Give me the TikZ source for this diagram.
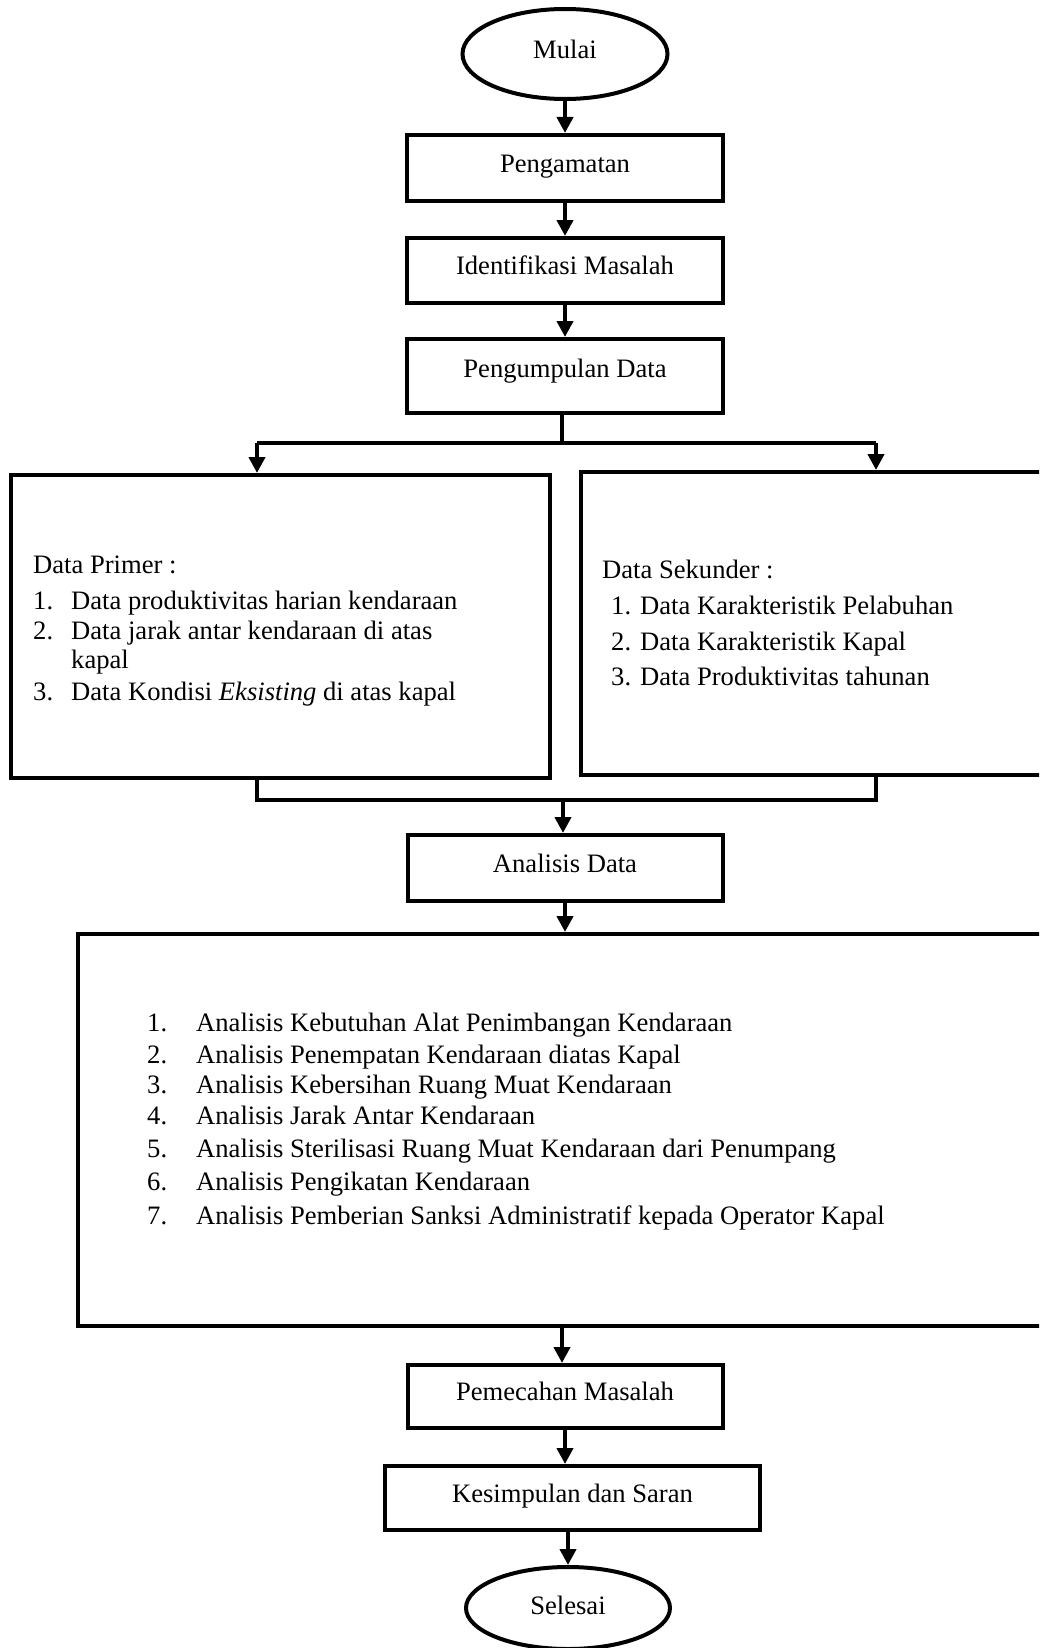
\documentclass[tikz,border=0pt]{standalone}
\usepackage{fontspec}
\setmainfont{Liberation Serif}
\usetikzlibrary{shapes.geometric,arrows.meta}
\begin{document}
\begin{tikzpicture}[x=1pt,y=-1pt,
  font=\fontsize{26.6}{32}\selectfont,
  box/.style={draw,line width=4pt,rectangle,inner sep=0pt,text height=0.83em,text depth=0em},
  oval/.style={draw,line width=4pt,ellipse,inner sep=0pt,text height=0.83em,text depth=0em},
  txt/.style={anchor=west,inner sep=0pt,text height=0.7em,text depth=0.25em,yshift=-7pt},
  conn/.style={line width=4pt},
  arr/.style={line width=4pt,-{Triangle[width=16pt,length=16pt]}}]
\useasboundingbox (0,0) rectangle (1039,1648);
\clip (0,0) rectangle (1039,1648);
% top chain
\node[oval,minimum width=205pt,minimum height=90pt] (mulai) at (565,54) {Mulai};
\node[box,minimum width=316pt,minimum height=66pt] (peng) at (565,168) {Pengamatan};
\node[box,minimum width=316pt,minimum height=65pt] (iden) at (565,270.5) {Identifikasi Masalah};
\node[box,minimum width=316pt,minimum height=74pt] (pengum) at (565,376) {};
\node[inner sep=0pt] (pengumt) at (565,371) {Pengumpulan Data};
\draw[arr] (mulai.south) -- (peng.north);
\draw[arr] (peng.south) -- (iden.north);
\draw[arr] (iden.south) -- (pengum.north);
% data boxes
\node[box,minimum width=539pt,minimum height=303pt] (primer) at (280.5,626.5) {};
\node[box,minimum width=519pt,minimum height=303pt] (sekunder) at (840.5,623.5) {};
\coordinate (split) at (562,443);
\coordinate (fl) at (257,443);
\coordinate (fr) at (876,443);
\draw[conn] (pengum.south -| split) -- (split);
\draw[conn] (fl) -- (fr);
\draw[arr] (fl) -- (fl |- primer.north);
\draw[arr] (fr) -- (fr |- sekunder.north);
% primer text
\node[txt] (p0) at (33,564) {Data Primer :};
\node[txt] (p1n) at (33,600) {1.};
\node[txt] (p1) at (71,600) {Data produktivitas harian kendaraan};
\node[txt] (p2n) at (33,630) {2.};
\node[txt] (p2) at (71,630) {Data jarak antar kendaraan di atas};
\node[txt] (p2b) at (71,659) {kapal};
\node[txt] (p3n) at (33,691) {3.};
\node[txt] (p3) at (71,691) {Data Kondisi \textit{Eksisting} di atas kapal};
% sekunder text
\node[txt] (s0) at (602,569) {Data Sekunder :};
\node[txt] (s1n) at (611,605) {1.};
\node[txt] (s1) at (640,605) {Data Karakteristik Pelabuhan};
\node[txt] (s2n) at (611,641) {2.};
\node[txt] (s2) at (640,641) {Data Karakteristik Kapal};
\node[txt] (s3n) at (611,676) {3.};
\node[txt] (s3) at (640,676) {Data Produktivitas tahunan};
% merge
\coordinate (ml) at (257,800);
\coordinate (mr) at (876,800);
\coordinate (mm) at (563,800);
\node[box,minimum width=315pt,minimum height=66pt] (analisis) at (565,868) {Analisis Data};
\draw[conn] (ml |- primer.south) -- (ml) -- (mr) -- (mr |- sekunder.south);
\draw[arr] (mm) -- (mm |- analisis.north);
% big box
\node[box,minimum width=1022pt,minimum height=392pt] (big) at (589,1130) {};
\draw[arr] (analisis.south) -- (analisis.south |- big.north);
\node[txt] (a1n) at (147,1022) {1.};
\node[txt] (a1) at (196,1022) {Analisis Kebutuhan Alat Penimbangan Kendaraan};
\node[txt] (a2n) at (147,1054) {2.};
\node[txt] (a2) at (196,1054) {Analisis Penempatan Kendaraan diatas Kapal};
\node[txt] (a3n) at (147,1084) {3.};
\node[txt] (a3) at (196,1084) {Analisis Kebersihan Ruang Muat Kendaraan};
\node[txt] (a4n) at (147,1115) {4.};
\node[txt] (a4) at (196,1115) {Analisis Jarak Antar Kendaraan};
\node[txt] (a5n) at (147,1148) {5.};
\node[txt] (a5) at (196,1148) {Analisis Sterilisasi Ruang Muat Kendaraan dari Penumpang};
\node[txt] (a6n) at (147,1181) {6.};
\node[txt] (a6) at (196,1181) {Analisis Pengikatan Kendaraan};
\node[txt] (a7n) at (147,1215) {7.};
\node[txt] (a7) at (196,1215) {Analisis Pemberian Sanksi Administratif kepada Operator Kapal};
% bottom chain
\node[box,minimum width=315pt,minimum height=63pt] (pemecahan) at (565,1396.5) {Pemecahan Masalah};
\node[box,minimum width=375pt,minimum height=64pt] (kesimpulan) at (572.5,1498) {Kesimpulan dan Saran};
\node[oval,minimum width=204pt,minimum height=82pt,text height=1.2em] (selesai) at (568,1608) {Selesai};
\coordinate (bs) at (562,1326);
\draw[arr] (bs |- big.south) -- (bs |- pemecahan.north);
\draw[arr] (pemecahan.south) -- (pemecahan.south |- kesimpulan.north);
\draw[arr] (kesimpulan.south -| selesai.north) -- (selesai.north);
\end{tikzpicture}
\end{document}
